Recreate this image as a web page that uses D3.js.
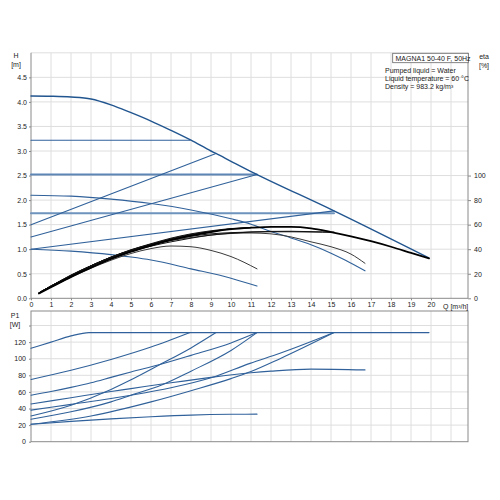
<!DOCTYPE html>
<html><head><meta charset="utf-8">
<script src="https://cdn.jsdelivr.net/npm/d3@7"></script>
<style>
body{margin:0;background:#fff}
text{font-family:"Liberation Sans",Arial,sans-serif;font-size:7px;fill:#222}
</style>
</head><body>
<svg id="c" width="500" height="500"></svg>
<script>
// ---------- DATA ----------
const qTicks = d3.range(0, 21);           // labelled Q ticks
const qGrid = d3.range(1, 22);            // vertical grid lines
const hTicks = [0,0.5,1,1.5,2,2.5,3,3.5,4,4.5];
const hGrid = [0.5,1,1.5,2,2.5,3,3.5,4,4.5,5];
const etaTicks = [0,20,40,60,80,100];
const pTicks = [0,20,40,60,80,100,120];
const pGrid = [20,40,60,80,100,120,140];

// QH curves [Q m3/h, H m]
const hMax = [[0,4.12],[1,4.115],[2,4.1],[3,4.06],[4,3.94],[5,3.78],[6,3.61],[7,3.42],[8,3.22],[9,3.0],[9.25,2.95],[10,2.79],[11,2.58],[11.3,2.52],[15.15,1.78],[19.9,0.82]];
const hCP3 = [[0,3.22],[7.95,3.22]];
const hCP2 = [[0,2.52],[11.3,2.52]];
const hCP1 = [[0,1.73],[15.15,1.73]];
const hPP3 = [[0,1.5],[9.25,2.95]];
const hPP2 = [[0,1.25],[11.3,2.52]];
const hPP1 = [[0,1.0],[15.15,1.78]];
const hConstII = [[0,2.1],[2,2.08],[4,2.02],[6,1.93],[8,1.8],[10,1.62],[11,1.51],[12,1.36],[13,1.23],[14,1.09],[15,0.92],[15.7,0.78],[16.7,0.56]];
const hConstI = [[0,1.0],[2,0.96],[4,0.89],[5,0.84],[6,0.78],[8,0.6],[10,0.41],[11.3,0.25]];

// efficiency curves [Q, eta %]
const etaMax = [[0.4,4],[1,9],[2,17.5],[3,25],[4,32],[5,38],[6,43],[7,47.5],[8,51],[9,54],[10,56.3],[11,57.5],[12,58.2],[13,58.2],[14,57],[15,54],[16,50.5],[17,46.5],[18,42],[19,37],[19.9,32.5]];
const etaCP3 = [[0.4,4.5],[1,10],[2,19],[3,26.5],[4,33],[5,38.5],[6,43.5],[7,47.5],[7.95,51.5]];
const etaCP2 = [[0.4,4],[1,9.5],[2,18],[3,26],[4,33],[5,39],[6,44],[7,48.5],[8,52],[9,54.5],[10,56.5],[11.3,57.8]];
const etaCP1 = [[0.4,4.5],[1,10],[2,18.5],[3,26.5],[4,33.5],[5,39.5],[6,44],[7,47.5],[8,50.5],[9,52.5],[10,53.5],[11,54],[12,54.2],[13,54.2],[14,54],[15.15,53.8]];
const etaPP1 = [[0.4,4],[1,9.5],[2,18],[3,26],[4,32.5],[5,38],[6,42.5],[7,46],[8,49],[9,51.5],[10,53],[11,54],[12,54.5],[13,54.6],[14,54.3],[15.15,53.8]];
const etaPP2 = [[0.4,4.5],[1,10],[2,18.5],[3,26.5],[4,33.5],[5,39.5],[6,44.5],[7,49],[8,52.5],[9,55],[10,56.8],[11.3,57.8]];
const etaPP3 = [[0.4,4.5],[1,10],[2,18.5],[3,26.5],[4,33.5],[5,39],[6,44],[7,48],[8,51.5],[9.25,55]];
const etaConstII = [[0.4,4.5],[1,10],[2,18.5],[3,26.5],[4,33.5],[5,39],[6,43.5],[7,47],[8,49.5],[9,51.5],[10,52.8],[11,53.2],[12,52.5],[13,50],[14,46],[15,42],[16,36],[16.7,28.5]];
const etaConstI = [[0.4,4],[1,9],[2,17],[3,24.5],[4,31],[5,36.5],[6,40.5],[7,42.6],[8,42],[9,39],[10,34],[11.3,24]];

// P1 curves [Q, W]
const pMax = [[0,112.5],[1,120],[2,127.5],[2.9,131.5],[19.9,131.5]];
const pCP3 = [[0,75],[2,86],[4,99],[6,114],[7.95,131.5]];
const pCP2 = [[0,56],[1,60.5],[2,65.5],[3,71],[4,77.5],[5,84],[6.45,93],[8,104],[10,119],[11.3,131.5]];
const pCP1 = [[0,38],[2,45],[4,52],[5,56],[7,65],[9,77],[10.95,94.4],[12.45,106.5],[15.15,131.5]];
const pPP3 = [[0,31],[2,44],[4,63],[4.95,74],[6.45,93],[8,113],[9.25,131.5]];
const pPP2 = [[0,27],[2,36],[4,48],[5,56],[6.5,68],[8,85],[10,110],[11.3,131.5]];
const pPP1 = [[0,21],[3,31],[6,48],[8,61.5],[10,76],[11,84.5],[12.45,100],[15.15,131.5]];
const pConstII = [[0,45.5],[2,53],[4,60.5],[5,64],[7,71],[9,77.5],[11,83],[12,85],[14,87.5],[16.7,86.5]];
const pConstI = [[0,21],[2,24.5],[4,27.5],[6,30],[8,32],[10,33],[11.3,33.2]];

const titleText = "MAGNA1 50-40 F, 50Hz";
const infoLines = ["Pumped liquid = Water","Liquid temperature = 60 °C","Density = 983.2 kg/m³"];

// ---------- SCALES ----------
const svg = d3.select("#c");
const L = 31, R = 468;
const x = d3.scaleLinear().domain([0, 21.85]).range([L, R]);
const yH = d3.scaleLinear().domain([0, 5]).range([298.3, 52.8]);
const yEta = d3.scaleLinear().domain([0, 200]).range([298.3, 52.8]);
const yP = d3.scaleLinear().domain([0, 157.5]).range([441.7, 311]);

const gridC = "#dedede", axisC = "#8a8a8a";

// ---------- GRIDS ----------
const g = svg.append("g");
// top chart
g.selectAll(".vt").data(qGrid).join("line")
  .attr("x1", d=>x(d)).attr("x2", d=>x(d)).attr("y1", yH(0)).attr("y2", yH(5))
  .attr("stroke", gridC).attr("stroke-width", 1);
g.selectAll(".ht").data(hGrid).join("line")
  .attr("x1", L).attr("x2", R).attr("y1", d=>yH(d)).attr("y2", d=>yH(d))
  .attr("stroke", gridC).attr("stroke-width", 1);
// bottom chart
g.selectAll(".vb").data(qGrid).join("line")
  .attr("x1", d=>x(d)).attr("x2", d=>x(d)).attr("y1", yP(0)).attr("y2", yP.range()[1])
  .attr("stroke", gridC).attr("stroke-width", 1);
g.selectAll(".hb").data(pGrid).join("line")
  .attr("x1", L).attr("x2", R).attr("y1", d=>yP(d)).attr("y2", d=>yP(d))
  .attr("stroke", gridC).attr("stroke-width", 1);

// ---------- AXES ----------
// top chart frame
g.append("line").attr("x1",L).attr("x2",L).attr("y1",yH(5)).attr("y2",yH(0)).attr("stroke",axisC);
g.append("line").attr("x1",R).attr("x2",R).attr("y1",yH(5)).attr("y2",yH(0)).attr("stroke",axisC);
g.append("line").attr("x1",L).attr("x2",R).attr("y1",yH(0)).attr("y2",yH(0)).attr("stroke",axisC);
// bottom chart frame
g.append("rect").attr("x",L).attr("y",yP.range()[1]).attr("width",R-L).attr("height",yP(0)-yP.range()[1])
  .attr("fill","none").attr("stroke",axisC);

// left H axis
g.append("g").attr("transform",`translate(${L},0)`)
  .call(d3.axisLeft(yH).tickValues(hTicks).tickFormat(d3.format(".1f")).tickSize(2).tickPadding(2))
  .call(a=>{a.select(".domain").remove(); a.selectAll("line").attr("stroke",axisC); a.selectAll("text").attr("font-size",7).attr("font-family","Liberation Sans, Arial, sans-serif").attr("fill","#222");});
// right eta axis
g.append("g").attr("transform",`translate(${R},0)`)
  .call(d3.axisRight(yEta).tickValues(etaTicks).tickSize(3).tickPadding(3))
  .call(a=>{a.select(".domain").remove(); a.selectAll("line").attr("stroke",axisC); a.selectAll("text").attr("font-size",7).attr("font-family","Liberation Sans, Arial, sans-serif").attr("fill","#222");});
// Q axis labels (between charts)
g.append("g").attr("transform",`translate(0,${yH(0)})`)
  .call(d3.axisBottom(x).tickValues(qTicks).tickFormat(d3.format("d")).tickSize(2).tickPadding(2))
  .call(a=>{a.select(".domain").remove(); a.selectAll("line").attr("stroke",axisC); a.selectAll("text").attr("font-size",7).attr("font-family","Liberation Sans, Arial, sans-serif").attr("fill","#222");});
// P axis
g.append("g").attr("transform",`translate(${L},0)`)
  .call(d3.axisLeft(yP).tickValues(pTicks.concat([140])).tickFormat(d=>d===140?"":d).tickSize(2).tickPadding(3))
  .call(a=>{a.select(".domain").remove(); a.selectAll("line").attr("stroke",axisC); a.selectAll("text").attr("font-size",7).attr("font-family","Liberation Sans, Arial, sans-serif").attr("fill","#222");});

// axis titles
const T = svg.append("g");
T.append("text").attr("x",16).attr("y",58).attr("text-anchor","middle").text("H");
T.append("text").attr("x",16).attr("y",67).attr("text-anchor","middle").text("[m]");
T.append("text").attr("x",484).attr("y",59).attr("text-anchor","middle").text("eta");
T.append("text").attr("x",484).attr("y",67.5).attr("text-anchor","middle").text("[%]");
T.append("text").attr("x",443).attr("y",308.5).text("Q [m³/h]");
T.append("text").attr("x",15).attr("y",317.5).attr("text-anchor","middle").text("P1");
T.append("text").attr("x",15).attr("y",326.5).attr("text-anchor","middle").text("[W]");

// ---------- CURVES ----------
const lineH = d3.line().x(d=>x(d[0])).y(d=>yH(d[1])).curve(d3.curveMonotoneX);
const lineE = d3.line().x(d=>x(d[0])).y(d=>yEta(d[1])).curve(d3.curveMonotoneX);
const lineP = d3.line().x(d=>x(d[0])).y(d=>yP(d[1])).curve(d3.curveMonotoneX);
const C = svg.append("g").attr("fill","none").attr("stroke-linejoin","round").attr("stroke-linecap","round");
const blue = "#30619a";

[[hCP3,1.1,blue],[hCP2,2,"#5d86b5"],[hCP1,2,"#6e93bd"],[hPP3,1.1,blue],[hPP2,1.1,blue],[hPP1,1.1,blue],[hConstII,1.1,blue],[hConstI,1.1,blue]]
  .forEach(([d,w,c])=>C.append("path").attr("d",lineH(d)).attr("stroke",c).attr("stroke-width",w));
C.append("path").attr("d",lineH(hMax)).attr("stroke","#21558f").attr("stroke-width",1.4);

[[etaConstI,1,"#3a3a3a"],[etaConstII,1,"#3a3a3a"],[etaCP1,1,"#111"],[etaPP1,1,"#111"],[etaCP2,1,"#111"],[etaPP2,1,"#111"],[etaPP3,1,"#111"],[etaCP3,1,"#111"]]
  .forEach(([d,w,c])=>C.append("path").attr("d",lineE(d)).attr("stroke",c).attr("stroke-width",w));
C.append("path").attr("d",lineE(etaMax)).attr("stroke","#000").attr("stroke-width",1.8);

[pMax,pCP3,pCP2,pCP1,pPP3,pPP2,pPP1,pConstII,pConstI]
  .forEach(d=>C.append("path").attr("d",lineP(d)).attr("stroke",blue).attr("stroke-width",1.1));

// ---------- LEGEND ----------
const Lg = svg.append("g");
Lg.append("rect").attr("x",392.7).attr("y",53.3).attr("width",75.6).attr("height",9.4)
  .attr("fill","#fff").attr("stroke","#666").attr("stroke-width",0.8);
Lg.append("text").attr("x",395.5).attr("y",60.7).text(titleText);
Lg.selectAll(".info").data(infoLines).join("text")
  .attr("x",385).attr("y",(d,i)=>72.5+i*8).text(d=>d);
</script>
</body></html>
